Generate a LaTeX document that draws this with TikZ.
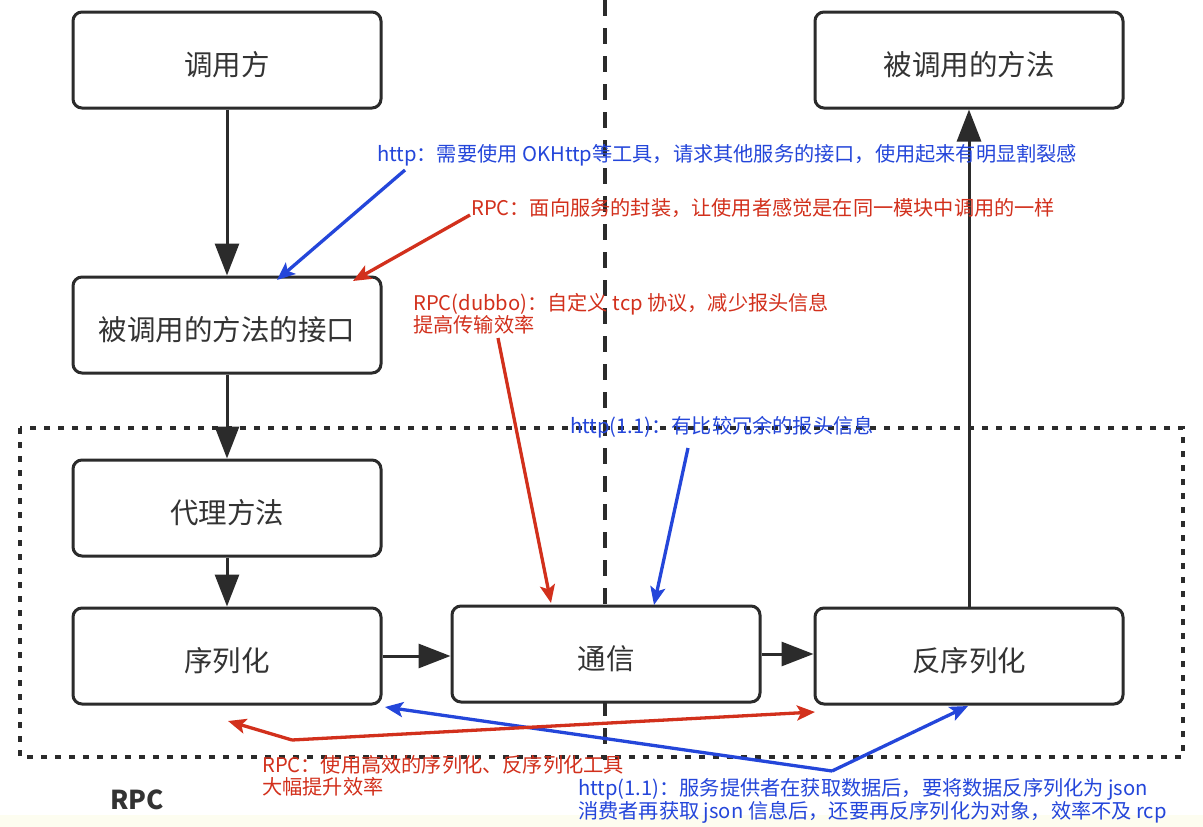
\documentclass[tikz,border=0pt]{standalone}
\usepackage{fontspec}
\setmainfont{Noto Sans CJK SC}
\usetikzlibrary{arrows.meta}
\definecolor{ink}{HTML}{2B2B2B}
\definecolor{txt}{HTML}{333333}
\definecolor{ablue}{RGB}{36,70,218}
\definecolor{ared}{RGB}{210,48,28}
\definecolor{cream}{RGB}{253,253,240}
\begin{document}
\begin{tikzpicture}[x=1pt,y=-1pt,
  box/.style={draw=ink, line width=3pt, rounded corners=9pt, fill=white,
    minimum width=308pt, minimum height=96pt, inner sep=0pt, text=txt,
    text height=30pt, text depth=0pt,
    font=\fontsize{28.5}{30}\selectfont},
  flow/.style={draw=ink, line width=3pt, -{Triangle[length=32pt,width=24pt]}},
  note/.style={inner sep=0pt, anchor=west, align=left, font=\fontsize{20.2}{22.5}\selectfont},
  bnote/.style={note, text=ablue},
  rnote/.style={note, text=ared},
  barrow/.style={draw=ablue, line width=3.3pt, -{Stealth[length=18pt,width=15pt,inset=4pt]}},
  rarrow/.style={draw=ared, line width=3.3pt, -{Stealth[length=18pt,width=15pt,inset=4pt]}},
  divider/.style={draw=ink, line width=4pt, dash pattern=on 16pt off 12pt},
  group/.style={draw=ink, line width=3.5pt, dash pattern=on 6pt off 8pt}
]
\useasboundingbox (0,0) rectangle (1203,827);
\fill[white] (0,0) rectangle (1203,827);
\fill[cream] (0,815) rectangle (1203,827);

% background lines
\draw[divider] (605,0) -- (605,760);
\draw[group] (20,428) rectangle (1183,757);

% boxes
\node[box] (caller) at (227,60) {调用方};
\node[box] (callee) at (969,60) {被调用的方法};
\node[box] (iface) at (227,325) {被调用的方法的接口};
\node[box] (proxy) at (227,508) {代理方法};
\node[box] (ser) at (227,656) {序列化};
\node[box] (comm) at (606,654) {通信};
\node[box] (deser) at (969,656) {反序列化};

\node[font=\fontsize{26}{28}\selectfont\bfseries, text=txt, inner sep=0pt] (rpc) at (137,800) {RPC};

% flow connectors
\draw[flow] (caller) -- (iface);
\draw[flow] (iface) -- (proxy);
\draw[flow] (proxy) -- (ser);
\draw[flow] (ser.east) -- (ser.east -| comm.west);
\draw[flow] (comm.east) -- (comm.east -| deser.west);
\draw[flow] (deser) -- (callee);

% annotations
\node[bnote] (t1) at (377,155) {http：需要使用 OKHttp等工具，请求其他服务的接口，使用起来有明显割裂感};
\node[rnote] (t2) at (471,208) {RPC：面向服务的封装，让使用者感觉是在同一模块中调用的一样};
\node[rnote] (t3) at (413,314) {RPC(dubbo)：自定义 tcp 协议，减少报头信息\\提高传输效率};
\node[bnote] (t4) at (570,427) {http(1.1)：有比较冗余的报头信息};
\node[rnote] (t5) at (262,776) {RPC：使用高效的序列化、反序列化工具\\大幅提升效率};
\node[bnote] (t6) at (578,801) {http(1.1)：服务提供者在获取数据后，要将数据反序列化为 json\\消费者再获取 json 信息后，还要再反序列化为对象，效率不及 rcp};

\coordinate (a1s) at (405,170);
\coordinate (a1e) at (277,280);
\coordinate (a2s) at (470,215);
\coordinate (a2e) at (353,281);
\coordinate (a3s) at (498,338);
\coordinate (a3e) at (551,603);
\coordinate (a4s) at (688,448);
\coordinate (a4e) at (654,605);
\coordinate (a5s) at (292,740);
\coordinate (a5l) at (228,721);
\coordinate (a5r) at (815,712);
\coordinate (a6s) at (832,771);
\coordinate (a6l) at (385,707);
\coordinate (a6r) at (968,706);

\draw[barrow] (a1s) -- (a1e);
\draw[rarrow] (a2s) -- (a2e);
\draw[rarrow] (a3s) -- (a3e);
\draw[barrow] (a4s) -- (a4e);
\draw[barrow] (a6s) -- (a6l);
\draw[barrow] (a6s) -- (a6r);
\draw[rarrow] (a5s) -- (a5l);
\draw[rarrow] (a5s) -- (a5r);
\end{tikzpicture}
\end{document}
